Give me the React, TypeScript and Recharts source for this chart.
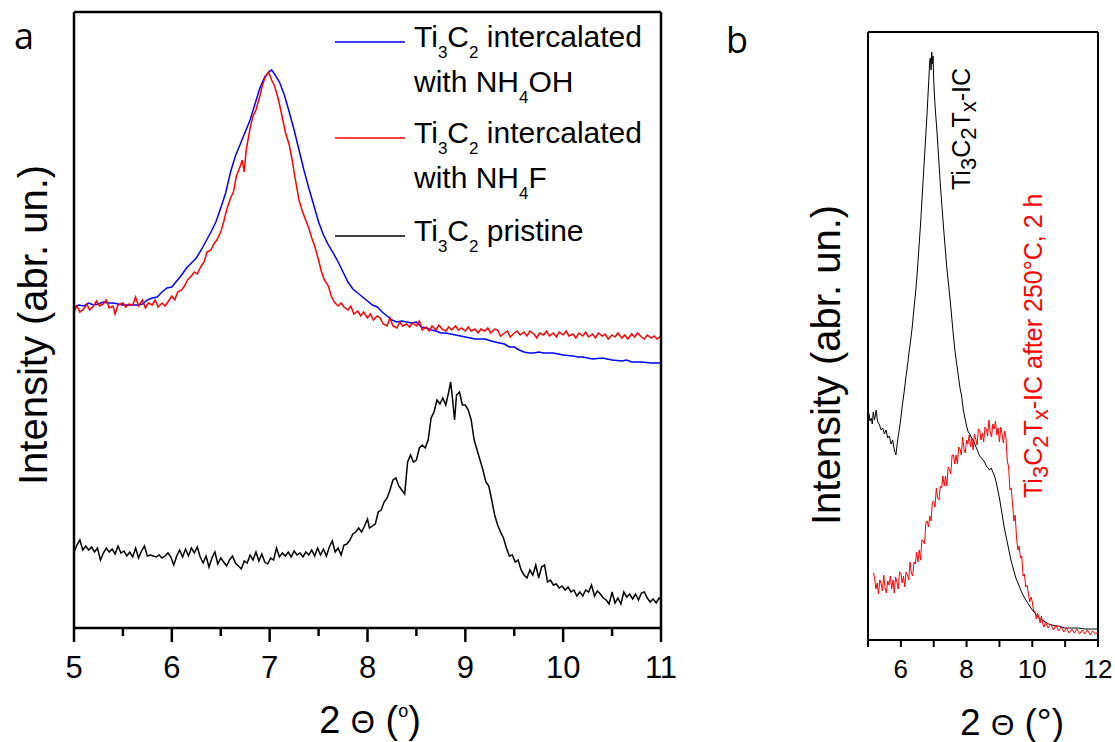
import React from 'react';
import { LineChart, Line, XAxis, YAxis, ReferenceLine } from 'recharts';

const FONT = '"Liberation Sans", Arial, Helvetica, sans-serif';
const LABEL_FONT = '"Open Sans", "Noto Sans", sans-serif';

// ---------- Panel a : 2θ (deg), intensity (arb.) ----------
const domainA = [5, 11];
const yDomainA = [0, 616];
const ticksA = [5, 5.5, 6, 6.5, 7, 7.5, 8, 8.5, 9, 9.5, 10, 10.5, 11];

const nh4ohA: number[][] = [
  [5.0, 321], [5.05, 323], [5.1, 322], [5.15, 325], [5.2, 323], [5.25, 324], [5.3, 326], [5.35, 325], [5.4, 325],
  [5.45, 324], [5.5, 323], [5.55, 323], [5.6, 323], [5.65, 323], [5.7, 324], [5.75, 328], [5.8, 330], [5.85, 331],
  [5.9, 336], [5.95, 340], [6.0, 341], [6.05, 347], [6.1, 353], [6.15, 360], [6.2, 365], [6.25, 370], [6.3, 378],
  [6.35, 387], [6.4, 396], [6.45, 406], [6.5, 420], [6.55, 435], [6.6, 456], [6.65, 472], [6.7, 484], [6.75, 496],
  [6.8, 508], [6.85, 524], [6.9, 540], [6.95, 551], [7.0, 557], [7.02, 558], [7.05, 554], [7.1, 546], [7.15, 533],
  [7.2, 516], [7.25, 498], [7.3, 478], [7.35, 458], [7.4, 440], [7.45, 423], [7.5, 406], [7.55, 393], [7.6, 383],
  [7.65, 375], [7.7, 366], [7.75, 356], [7.8, 346], [7.85, 339], [7.9, 335], [7.95, 331], [8.0, 327], [8.05, 323],
  [8.1, 321], [8.15, 316], [8.2, 312], [8.25, 308], [8.3, 306], [8.35, 307], [8.4, 306], [8.45, 305], [8.5, 306],
  [8.55, 301], [8.6, 300], [8.65, 298], [8.7, 297], [8.75, 295], [8.8, 295], [8.85, 294], [8.9, 293], [9.0, 291],
  [9.1, 289], [9.2, 289], [9.3, 286], [9.4, 284], [9.45, 281], [9.5, 281], [9.55, 278], [9.6, 276], [9.65, 275],
  [9.7, 275], [9.75, 276], [9.8, 275], [9.9, 275], [10.0, 273], [10.1, 272], [10.15, 271], [10.2, 271], [10.3, 269],
  [10.4, 270], [10.5, 268], [10.6, 267], [10.65, 268], [10.7, 266], [10.8, 266], [10.9, 265], [11.0, 265],
];

const nh4fA: number[][] = [
  [5.0, 316], [5.03, 322], [5.06, 316], [5.1, 319], [5.13, 324], [5.16, 318], [5.2, 322], [5.23, 327], [5.26, 322],
  [5.3, 324], [5.33, 328], [5.36, 320], [5.4, 322], [5.42, 314], [5.45, 323], [5.5, 325], [5.53, 321], [5.56, 324],
  [5.6, 323], [5.63, 331], [5.66, 322], [5.7, 328], [5.73, 320], [5.76, 325], [5.8, 323], [5.83, 328], [5.86, 321],
  [5.9, 325], [5.93, 322], [5.96, 326], [6.0, 332], [6.03, 328], [6.06, 336], [6.1, 338], [6.13, 342], [6.16, 348],
  [6.2, 352], [6.23, 356], [6.26, 354], [6.3, 362], [6.33, 366], [6.36, 376], [6.4, 378], [6.43, 384], [6.46, 388],
  [6.5, 396], [6.53, 406], [6.56, 418], [6.6, 430], [6.63, 436], [6.66, 452], [6.7, 462], [6.72, 468], [6.74, 456],
  [6.76, 478], [6.8, 500], [6.83, 512], [6.86, 518], [6.9, 532], [6.93, 544], [6.96, 552], [6.99, 556], [7.02, 548],
  [7.05, 542], [7.08, 532], [7.1, 524], [7.13, 510], [7.16, 496], [7.2, 483], [7.23, 468], [7.26, 450], [7.3, 428],
  [7.33, 418], [7.36, 410], [7.4, 400], [7.43, 390], [7.46, 382], [7.5, 368], [7.53, 356], [7.56, 348], [7.6, 342],
  [7.63, 332], [7.66, 326], [7.7, 322], [7.73, 325], [7.76, 321], [7.8, 318], [7.83, 322], [7.86, 314], [7.9, 317],
  [7.93, 312], [7.96, 316], [8.0, 310], [8.03, 314], [8.06, 308], [8.1, 312], [8.13, 310], [8.16, 304], [8.2, 302],
  [8.23, 310], [8.26, 302], [8.3, 300], [8.33, 306], [8.36, 302], [8.4, 304], [8.43, 301], [8.46, 305], [8.5, 302],
  [8.53, 307], [8.56, 298], [8.6, 301], [8.63, 297], [8.66, 302], [8.7, 298], [8.73, 303], [8.76, 299], [8.8, 297],
  [8.83, 301], [8.86, 298], [8.9, 302], [8.93, 298], [8.96, 300], [9.0, 297], [9.03, 301], [9.06, 297], [9.1, 299],
  [9.13, 295], [9.16, 299], [9.2, 297], [9.23, 300], [9.26, 295], [9.3, 299], [9.33, 298], [9.36, 292], [9.4, 295],
  [9.43, 297], [9.46, 291], [9.5, 295], [9.53, 297], [9.56, 293], [9.6, 296], [9.63, 292], [9.66, 297], [9.7, 294],
  [9.73, 290], [9.76, 295], [9.8, 293], [9.83, 297], [9.86, 292], [9.9, 295], [9.93, 291], [9.96, 296], [10.0, 293],
  [10.03, 297], [10.06, 292], [10.1, 294], [10.13, 290], [10.16, 295], [10.2, 292], [10.23, 296], [10.26, 291],
  [10.3, 294], [10.33, 290], [10.36, 295], [10.4, 292], [10.43, 294], [10.46, 289], [10.5, 293], [10.53, 291],
  [10.56, 295], [10.6, 290], [10.63, 293], [10.66, 289], [10.7, 294], [10.73, 291], [10.76, 295], [10.8, 291],
  [10.83, 289], [10.86, 293], [10.9, 290], [10.93, 292], [10.96, 289], [11.0, 292],
];

const pristineA: number[][] = [
  [5.0, 76], [5.03, 83], [5.06, 88], [5.09, 78], [5.12, 82], [5.15, 78], [5.18, 81], [5.21, 76], [5.24, 80], [5.27, 68],
  [5.3, 75], [5.33, 80], [5.36, 76], [5.39, 79], [5.42, 74], [5.45, 82], [5.48, 75], [5.51, 77], [5.54, 72], [5.57, 76],
  [5.6, 71], [5.63, 80], [5.66, 70], [5.69, 77], [5.72, 82], [5.75, 72], [5.78, 73], [5.81, 72], [5.84, 71], [5.87, 73],
  [5.9, 70], [5.93, 72], [5.96, 75], [5.99, 71], [6.02, 63], [6.05, 72], [6.08, 78], [6.11, 71], [6.14, 79], [6.17, 72],
  [6.2, 80], [6.23, 75], [6.26, 81], [6.29, 71], [6.32, 65], [6.35, 72], [6.38, 61], [6.41, 70], [6.44, 76], [6.47, 64],
  [6.5, 70], [6.53, 66], [6.56, 62], [6.59, 68], [6.62, 72], [6.65, 65], [6.68, 62], [6.71, 59], [6.74, 67], [6.77, 65],
  [6.8, 73], [6.83, 68], [6.86, 76], [6.89, 67], [6.92, 74], [6.95, 66], [6.98, 64], [7.01, 70], [7.04, 68], [7.07, 80],
  [7.1, 71], [7.13, 75], [7.16, 72], [7.19, 76], [7.22, 71], [7.25, 77], [7.28, 73], [7.31, 75], [7.34, 71], [7.37, 76],
  [7.4, 73], [7.43, 78], [7.46, 72], [7.49, 80], [7.52, 73], [7.55, 79], [7.58, 72], [7.61, 81], [7.64, 87], [7.67, 76],
  [7.7, 80], [7.73, 73], [7.76, 83], [7.79, 84], [7.82, 88], [7.85, 94], [7.88, 96], [7.91, 100], [7.94, 96], [7.97, 102],
  [8.0, 109], [8.02, 100], [8.05, 102], [8.08, 104], [8.11, 116], [8.14, 118], [8.17, 126], [8.2, 130], [8.23, 138],
  [8.26, 148], [8.29, 150], [8.32, 142], [8.35, 138], [8.38, 134], [8.41, 166], [8.44, 173], [8.47, 166], [8.5, 168],
  [8.53, 180], [8.56, 183], [8.59, 180], [8.62, 188], [8.65, 210], [8.68, 216], [8.71, 228], [8.74, 224], [8.77, 230],
  [8.8, 223], [8.83, 236], [8.85, 246], [8.87, 228], [8.89, 208], [8.91, 233], [8.94, 236], [8.97, 223], [9.0, 223],
  [9.03, 218], [9.06, 208], [9.09, 188], [9.12, 178], [9.15, 168], [9.18, 158], [9.21, 146], [9.24, 142], [9.27, 128],
  [9.3, 113], [9.33, 103], [9.36, 96], [9.39, 90], [9.42, 80], [9.45, 72], [9.48, 73], [9.51, 66], [9.54, 68], [9.57, 58],
  [9.6, 53], [9.63, 50], [9.66, 58], [9.69, 53], [9.72, 63], [9.75, 50], [9.78, 61], [9.81, 63], [9.84, 46], [9.87, 48],
  [9.9, 43], [9.93, 44], [9.96, 40], [9.99, 42], [10.02, 38], [10.05, 41], [10.08, 36], [10.11, 38], [10.14, 32],
  [10.17, 36], [10.2, 32], [10.23, 38], [10.26, 36], [10.29, 43], [10.32, 32], [10.35, 37], [10.38, 34], [10.41, 30],
  [10.44, 28], [10.47, 24], [10.5, 36], [10.53, 25], [10.56, 30], [10.59, 24], [10.62, 36], [10.65, 31], [10.68, 34],
  [10.71, 29], [10.74, 34], [10.77, 28], [10.8, 35], [10.83, 36], [10.86, 30], [10.89, 26], [10.92, 29], [10.95, 25],
  [10.98, 30], [11.0, 28],
];

// ---------- Panel b ----------
const domainB = [5, 12];
const yDomainB = [0, 608];
const ticksB = [5, 6, 7, 8, 9, 10, 11, 12];
const labelledB = [6, 8, 10, 12];

const icB: number[][] = [
  [5.0, 220], [5.03, 226], [5.06, 219], [5.1, 222], [5.13, 216], [5.16, 228], [5.2, 220], [5.25, 230], [5.28, 221],
  [5.3, 218], [5.35, 215], [5.4, 210], [5.45, 212], [5.5, 206], [5.55, 210], [5.6, 202], [5.65, 204], [5.7, 196],
  [5.75, 200], [5.8, 190], [5.85, 185], [5.88, 194], [5.92, 204], [5.96, 212], [6.0, 222], [6.05, 236], [6.1, 248],
  [6.15, 262], [6.2, 274], [6.25, 288], [6.3, 300], [6.35, 314], [6.4, 332], [6.45, 348], [6.5, 368], [6.55, 392],
  [6.6, 416], [6.65, 444], [6.7, 472], [6.75, 500], [6.8, 528], [6.85, 560], [6.88, 580], [6.9, 582], [6.92, 570],
  [6.94, 588], [6.96, 576], [6.98, 584], [7.0, 560], [7.02, 546], [7.05, 530], [7.1, 508], [7.15, 482], [7.2, 456],
  [7.25, 434], [7.3, 412], [7.35, 392], [7.4, 372], [7.45, 356], [7.5, 340], [7.55, 322], [7.6, 304], [7.65, 288],
  [7.7, 276], [7.75, 264], [7.8, 252], [7.85, 244], [7.9, 230], [7.95, 222], [8.0, 214], [8.05, 208], [8.1, 206],
  [8.15, 202], [8.2, 200], [8.25, 196], [8.3, 192], [8.35, 188], [8.4, 184], [8.45, 182], [8.5, 180], [8.55, 178],
  [8.6, 174], [8.65, 172], [8.7, 170], [8.75, 172], [8.8, 168], [8.85, 164], [8.9, 158], [8.95, 150], [9.0, 142],
  [9.05, 132], [9.1, 122], [9.15, 112], [9.2, 104], [9.25, 96], [9.3, 88], [9.35, 80], [9.4, 74], [9.45, 68], [9.5, 62],
  [9.6, 54], [9.7, 46], [9.8, 40], [9.9, 35], [10.0, 30], [10.1, 26], [10.2, 22], [10.3, 20], [10.4, 18], [10.5, 16],
  [10.6, 15], [10.7, 14], [10.8, 14], [10.9, 13], [11.0, 12], [11.2, 12], [11.4, 12], [11.6, 11], [11.8, 11], [12.0, 11],
];

const annealedB: number[][] = [
  [5.17, 67], [5.2, 62], [5.24, 51], [5.28, 57], [5.32, 46], [5.36, 60], [5.4, 56], [5.44, 49], [5.48, 65], [5.52, 52],
  [5.56, 47], [5.6, 59], [5.64, 55], [5.68, 64], [5.72, 51], [5.76, 60], [5.8, 47], [5.84, 63], [5.88, 58], [5.92, 51],
  [5.96, 68], [6.0, 67], [6.04, 57], [6.08, 64], [6.12, 53], [6.16, 68], [6.2, 65], [6.24, 60], [6.28, 78], [6.32, 67],
  [6.36, 64], [6.4, 78], [6.44, 76], [6.48, 88], [6.52, 78], [6.56, 90], [6.6, 80], [6.64, 100], [6.68, 99], [6.72, 96],
  [6.76, 117], [6.8, 119], [6.84, 113], [6.88, 124], [6.92, 119], [6.96, 138], [7.0, 139], [7.04, 133], [7.08, 152],
  [7.12, 142], [7.16, 140], [7.2, 154], [7.24, 152], [7.28, 164], [7.32, 154], [7.36, 164], [7.4, 154], [7.44, 173],
  [7.48, 170], [7.52, 166], [7.56, 185], [7.6, 185], [7.64, 176], [7.68, 185], [7.72, 176], [7.76, 193], [7.8, 191],
  [7.84, 185], [7.88, 203], [7.92, 191], [7.96, 187], [8.0, 200], [8.04, 196], [8.08, 205], [8.12, 193], [8.16, 202],
  [8.2, 190], [8.24, 206], [8.28, 201], [8.32, 195], [8.36, 211], [8.4, 210], [8.44, 200], [8.48, 207], [8.52, 198],
  [8.56, 213], [8.6, 211], [8.64, 204], [8.68, 220], [8.72, 208], [8.76, 203], [8.8, 216], [8.84, 211], [8.88, 219],
  [8.92, 205], [8.96, 212], [9.0, 198], [9.04, 213], [9.08, 206], [9.12, 197], [9.16, 209], [9.2, 202], [9.24, 179],
  [9.28, 173], [9.32, 150], [9.36, 152], [9.4, 136], [9.44, 119], [9.48, 125], [9.52, 103], [9.56, 90], [9.6, 94],
  [9.64, 82], [9.68, 84], [9.72, 64], [9.76, 66], [9.8, 53], [9.84, 55], [9.88, 47], [9.92, 38], [9.96, 43], [10.0, 38],
  [10.04, 29], [10.08, 29], [10.12, 21], [10.16, 27], [10.2, 23], [10.24, 17], [10.28, 24], [10.32, 16], [10.36, 13],
  [10.4, 18], [10.48, 12], [10.56, 16], [10.64, 10], [10.72, 15], [10.8, 9], [10.88, 13], [10.96, 8], [11.04, 12],
  [11.12, 7], [11.2, 11], [11.28, 7], [11.36, 11], [11.44, 6], [11.52, 10], [11.6, 6], [11.68, 10], [11.76, 5],
  [11.84, 9], [11.92, 6], [12.0, 8],
];

const legendA = [
  { color: '#0000ff', line1: ' intercalated', tail: 'OH' },
  { color: '#ff0000', line1: ' intercalated', tail: 'F' },
  { color: '#000000', line1: ' pristine', tail: '' },
];

const toPts = (arr: number[][]) => arr.map(([x, y]) => ({ x, y }));

const TickA = (props: any) => {
  const { x, y, payload } = props;
  const v = payload.value as number;
  const major = Number.isInteger(v);
  return (
    <g>
      <line x1={x} x2={x} y1={y} y2={y + (major ? 14 : 8)} stroke="#000" strokeWidth={2.5} />
      {major && (
        <text x={x} y={y + 50} textAnchor="middle" fontSize={31} fontFamily={FONT} fill="#000">
          {v}
        </text>
      )}
    </g>
  );
};

const TickB = (props: any) => {
  const { x, y, payload } = props;
  const v = payload.value as number;
  const lab = labelledB.includes(v);
  return (
    <g>
      <line x1={x} x2={x} y1={y} y2={y + 7} stroke="#000" strokeWidth={2} />
      {lab && (
        <text x={x} y={y + 38} textAnchor="middle" fontSize={26} fontFamily={FONT} fill="#000">
          {v}
        </text>
      )}
    </g>
  );
};

const SUB = 17;
const SD = 11;

const LegendA = () => (
  <g fontFamily={FONT} fontSize={30} fill="#000">
    {legendA.map((e, i) => {
      const ly = [42, 138, 236][i];
      return (
        <g key={i}>
          <line x1={335} x2={405} y1={ly} y2={ly} stroke={e.color} strokeWidth={1.5} />
          <text x={414} y={ly + 5}>
            Ti<tspan fontSize={SUB} dy={SD}>3</tspan><tspan dy={-SD}>C</tspan><tspan fontSize={SUB} dy={SD}>2</tspan>
            <tspan dy={-SD}>{e.line1}</tspan>
          </text>
          {e.tail && (
            <text x={414} y={ly + 50}>
              {'with NH'}<tspan fontSize={SUB} dy={SD}>4</tspan><tspan dy={-SD}>{e.tail}</tspan>
            </text>
          )}
        </g>
      );
    })}
  </g>
);

const TextsA = () => (
  <g fill="#000">
    <text x={14} y={49} fontFamily={LABEL_FONT} fontSize={36}>a</text>
    <text x={47} y={325} transform="rotate(-90 47 325)" textAnchor="middle" fontFamily={FONT} fontSize={40}>
      Intensity (abr. un.)
    </text>
    <text x={370} y={733} textAnchor="middle" fontFamily={FONT} fontSize={38}>
      {'2 '}<tspan fontSize={31}>Θ</tspan>{' ('}<tspan fontSize={18} dy={-16}>o</tspan><tspan dy={16}>)</tspan>
    </text>
  </g>
);

const TextsB = () => (
  <g fill="#000">
    <text x={26} y={53} fontFamily={LABEL_FONT} fontSize={36}>b</text>
    <text x={140} y={365} transform="rotate(-90 140 365)" textAnchor="middle" fontFamily={FONT} fontSize={40}>
      Intensity (abr. un.)
    </text>
    <text x={312} y={735} textAnchor="middle" fontFamily={FONT} fontSize={37}>
      {'2 '}<tspan fontSize={30}>Θ</tspan>{' (°)'}
    </text>
    <text x={270} y={190} transform="rotate(-90 270 190)" fontFamily={FONT} fontSize={25} fill="#000">
      Ti<tspan fontSize={22} dy={6}>3</tspan><tspan dy={-6}>C</tspan><tspan fontSize={22} dy={6}>2</tspan>
      <tspan dy={-6}>T</tspan><tspan fontSize={22} dy={6}>x</tspan><tspan dy={-6}>-IC</tspan>
    </text>
    <text x={342} y={498} transform="rotate(-90 342 498)" fontFamily={FONT} fontSize={25} fill="#ff0000">
      Ti<tspan fontSize={22} dy={6}>3</tspan><tspan dy={-6}>C</tspan><tspan fontSize={22} dy={6}>2</tspan>
      <tspan dy={-6}>T</tspan><tspan fontSize={22} dy={6}>x</tspan><tspan dy={-6}>{'-IC after 250°C, 2 h'}</tspan>
    </text>
  </g>
);

const Frame = ({ xd, yd, w }: { xd: number[]; yd: number[]; w: number }) => null;

export default function App() {
  return (
    <div style={{ position: 'absolute', left: 0, top: 0, width: 1115, height: 742, background: '#fff', overflow: 'hidden' }}>
      <div style={{ position: 'absolute', left: 0, top: 0 }}>
        <LineChart width={700} height={742} margin={{ top: 12, left: 74, right: 39, bottom: 0 }}>
          <XAxis
            xAxisId="b"
            type="number"
            dataKey="x"
            domain={domainA}
            ticks={ticksA}
            interval={0}
            tickSize={0}
            tickMargin={0}
            tickLine={false}
            tick={<TickA />}
            height={114}
            axisLine={false}
            allowDataOverflow
          />
          <YAxis yAxisId="l" type="number" domain={yDomainA} tick={false} tickLine={false} width={0} axisLine={false} allowDataOverflow />
          <Line xAxisId="b" yAxisId="l" data={toPts(nh4ohA)} dataKey="y" type="linear" stroke="#0000ff" strokeWidth={1.5} dot={false} activeDot={false} isAnimationActive={false} />
          <Line xAxisId="b" yAxisId="l" data={toPts(nh4fA)} dataKey="y" type="linear" stroke="#ff0000" strokeWidth={1.5} dot={false} activeDot={false} isAnimationActive={false} />
          <Line xAxisId="b" yAxisId="l" data={toPts(pristineA)} dataKey="y" type="linear" stroke="#000000" strokeWidth={1.5} dot={false} activeDot={false} isAnimationActive={false} />
          <ReferenceLine xAxisId="b" yAxisId="l" x={domainA[0]} stroke="#000" strokeWidth={2.5} ifOverflow="visible" />
          <ReferenceLine xAxisId="b" yAxisId="l" x={domainA[1]} stroke="#000" strokeWidth={2.5} ifOverflow="visible" />
          <ReferenceLine xAxisId="b" yAxisId="l" y={yDomainA[0]} stroke="#000" strokeWidth={2.5} ifOverflow="visible" />
          <ReferenceLine xAxisId="b" yAxisId="l" y={yDomainA[1]} stroke="#000" strokeWidth={2.5} ifOverflow="visible" />
          <LegendA />
          <TextsA />
        </LineChart>
      </div>
      <div style={{ position: 'absolute', left: 700, top: 0 }}>
        <LineChart width={415} height={742} margin={{ top: 32, left: 168, right: 17, bottom: 0 }}>
          <XAxis
            xAxisId="b"
            type="number"
            dataKey="x"
            domain={domainB}
            ticks={ticksB}
            interval={0}
            tickSize={0}
            tickMargin={0}
            tickLine={false}
            tick={<TickB />}
            height={102}
            axisLine={false}
            allowDataOverflow
          />
          <YAxis yAxisId="l" type="number" domain={yDomainB} tick={false} tickLine={false} width={0} axisLine={false} allowDataOverflow />
          <Line xAxisId="b" yAxisId="l" data={toPts(icB)} dataKey="y" type="linear" stroke="#000" strokeWidth={1} dot={false} activeDot={false} isAnimationActive={false} />
          <Line xAxisId="b" yAxisId="l" data={toPts(annealedB)} dataKey="y" type="linear" stroke="#ff0000" strokeWidth={1} dot={false} activeDot={false} isAnimationActive={false} />
          <ReferenceLine xAxisId="b" yAxisId="l" x={domainB[0]} stroke="#000" strokeWidth={2} ifOverflow="visible" />
          <ReferenceLine xAxisId="b" yAxisId="l" x={domainB[1]} stroke="#000" strokeWidth={2} ifOverflow="visible" />
          <ReferenceLine xAxisId="b" yAxisId="l" y={yDomainB[0]} stroke="#000" strokeWidth={2} ifOverflow="visible" />
          <ReferenceLine xAxisId="b" yAxisId="l" y={yDomainB[1]} stroke="#000" strokeWidth={2} ifOverflow="visible" />
          <TextsB />
        </LineChart>
      </div>
    </div>
  );
}
